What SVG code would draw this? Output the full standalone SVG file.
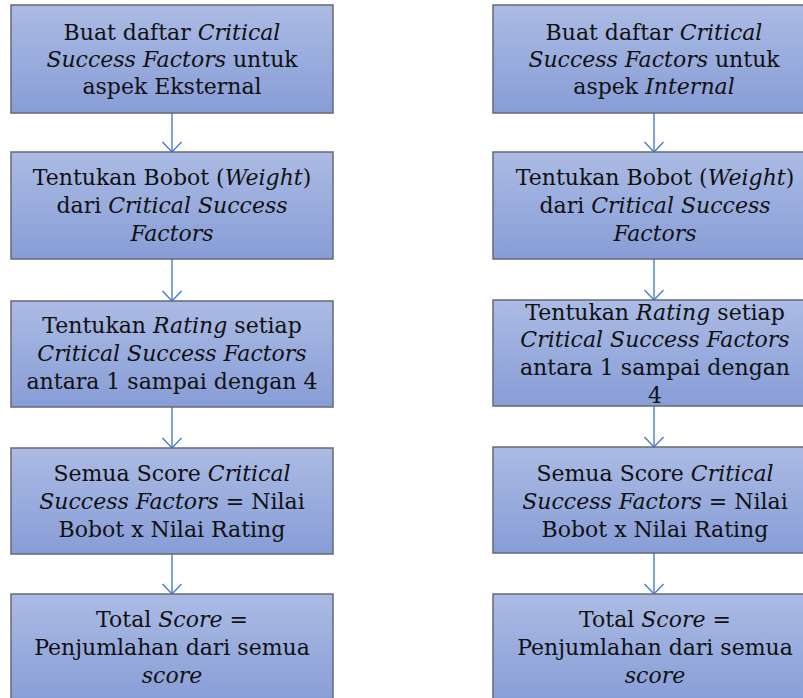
<svg xmlns="http://www.w3.org/2000/svg" width="803" height="698" viewBox="0 0 803 698">
  <style>
    .box { fill: url(#boxFill); stroke: #646a73; stroke-width: 1.5; }
    .lbl { font-family: "DejaVu Serif", "Liberation Serif", serif; font-size: 22px; fill: #111; text-anchor: middle; }
    .it { font-style: italic; }
    .conn { stroke: #4a7bd2; stroke-width: 1.4; fill: none; marker-end: url(#openArrow); }
  </style>
  <defs>
    <linearGradient id="boxFill" x1="0" y1="0" x2="0" y2="1">
      <stop offset="0" stop-color="#abbbe4"/>
      <stop offset="1" stop-color="#889dd7"/>
    </linearGradient>
    <marker id="openArrow" markerUnits="userSpaceOnUse" viewBox="-12 -12 14 24" markerWidth="14" markerHeight="24" refX="0" refY="0" orient="auto">
      <path d="M-10,-9.5 L0,0 L-10,9.5" fill="none" stroke="#4a7bd2" stroke-width="1.4"/>
    </marker>
  </defs>

  <!-- connectors -->
  <g id="connectors">
    <line class="conn" x1="172" y1="113" x2="172" y2="152"/>
    <line class="conn" x1="172" y1="259" x2="172" y2="301"/>
    <line class="conn" x1="172" y1="407" x2="172" y2="448"/>
    <line class="conn" x1="172" y1="554" x2="172" y2="594"/>
    <line class="conn" x1="654" y1="113" x2="654" y2="152"/>
    <line class="conn" x1="654" y1="259" x2="654" y2="300"/>
    <line class="conn" x1="654" y1="406" x2="654" y2="447"/>
    <line class="conn" x1="654" y1="553" x2="654" y2="594"/>
  </g>

  <!-- external column -->
  <g id="ext-list">
    <rect class="box" x="11" y="5" width="322" height="108"/>
    <text class="lbl" x="172" y="40">Buat daftar <tspan class="it">Critical</tspan></text>
    <text class="lbl" x="172" y="67"><tspan class="it">Success Factors</tspan> untuk</text>
    <text class="lbl" x="172" y="94">aspek Eksternal</text>
  </g>
  <g id="ext-weight">
    <rect class="box" x="11" y="152" width="322" height="107"/>
    <text class="lbl" x="172" y="185">Tentukan Bobot (<tspan class="it">Weight</tspan>)</text>
    <text class="lbl" x="172" y="213">dari <tspan class="it">Critical Success</tspan></text>
    <text class="lbl" x="172" y="241"><tspan class="it">Factors</tspan></text>
  </g>
  <g id="ext-rating">
    <rect class="box" x="11" y="301" width="322" height="106"/>
    <text class="lbl" x="172" y="333">Tentukan <tspan class="it">Rating</tspan> setiap</text>
    <text class="lbl" x="172" y="361"><tspan class="it">Critical Success Factors</tspan></text>
    <text class="lbl" x="172" y="389">antara 1 sampai dengan 4</text>
  </g>
  <g id="ext-score">
    <rect class="box" x="11" y="448" width="322" height="106"/>
    <text class="lbl" x="172" y="481">Semua Score <tspan class="it">Critical</tspan></text>
    <text class="lbl" x="172" y="509"><tspan class="it">Success Factors</tspan> = Nilai</text>
    <text class="lbl" x="172" y="537">Bobot x Nilai Rating</text>
  </g>
  <g id="ext-total">
    <rect class="box" x="11" y="594" width="322" height="110"/>
    <text class="lbl" x="172" y="627">Total <tspan class="it">Score</tspan> =</text>
    <text class="lbl" x="172" y="655">Penjumlahan dari semua</text>
    <text class="lbl" x="172" y="683"><tspan class="it">score</tspan></text>
  </g>

  <!-- internal column -->
  <g id="int-list">
    <rect class="box" x="493" y="5" width="322" height="108"/>
    <text class="lbl" x="654" y="40">Buat daftar <tspan class="it">Critical</tspan></text>
    <text class="lbl" x="654" y="67"><tspan class="it">Success Factors</tspan> untuk</text>
    <text class="lbl" x="654" y="94">aspek <tspan class="it">Internal</tspan></text>
  </g>
  <g id="int-weight">
    <rect class="box" x="493" y="152" width="322" height="107"/>
    <text class="lbl" x="655" y="185">Tentukan Bobot (<tspan class="it">Weight</tspan>)</text>
    <text class="lbl" x="655" y="213">dari <tspan class="it">Critical Success</tspan></text>
    <text class="lbl" x="655" y="241"><tspan class="it">Factors</tspan></text>
  </g>
  <g id="int-rating">
    <rect class="box" x="493" y="300" width="322" height="106"/>
    <text class="lbl" x="655" y="320">Tentukan <tspan class="it">Rating</tspan> setiap</text>
    <text class="lbl" x="655" y="347"><tspan class="it">Critical Success Factors</tspan></text>
    <text class="lbl" x="655" y="375">antara 1 sampai dengan</text>
    <text class="lbl" x="655" y="403">4</text>
  </g>
  <g id="int-score">
    <rect class="box" x="493" y="447" width="322" height="106"/>
    <text class="lbl" x="655" y="481">Semua Score <tspan class="it">Critical</tspan></text>
    <text class="lbl" x="655" y="509"><tspan class="it">Success Factors</tspan> = Nilai</text>
    <text class="lbl" x="655" y="537">Bobot x Nilai Rating</text>
  </g>
  <g id="int-total">
    <rect class="box" x="493" y="594" width="322" height="110"/>
    <text class="lbl" x="655" y="627">Total <tspan class="it">Score</tspan> =</text>
    <text class="lbl" x="655" y="655">Penjumlahan dari semua</text>
    <text class="lbl" x="655" y="683"><tspan class="it">score</tspan></text>
  </g>
</svg>
